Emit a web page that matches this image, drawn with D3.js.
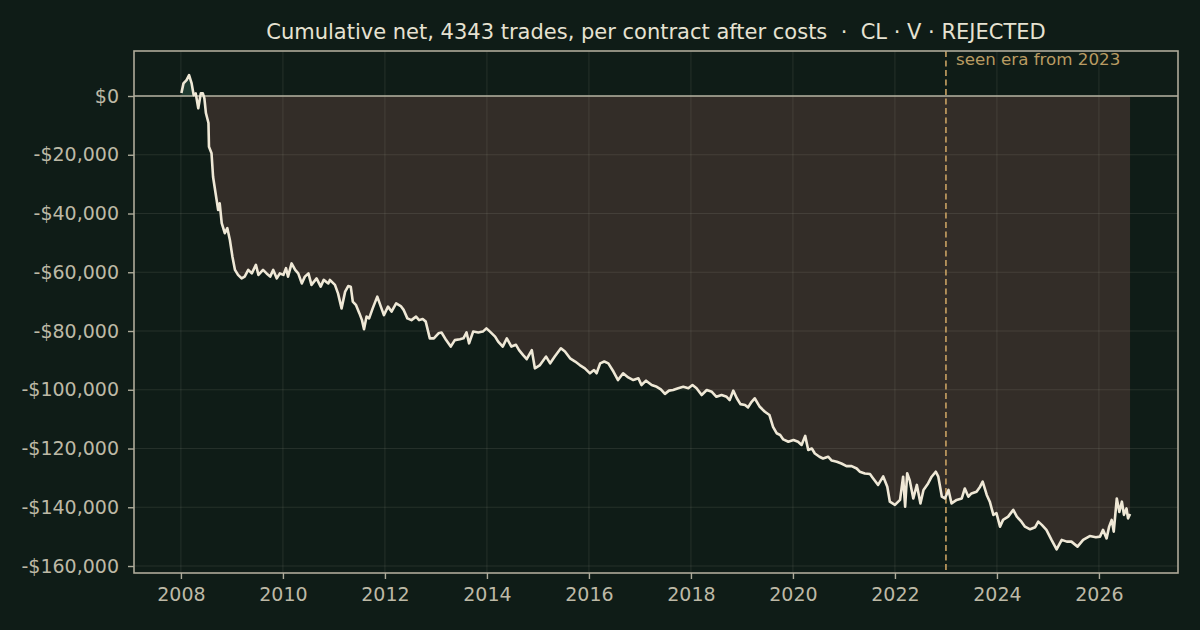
<!DOCTYPE html>
<html>
<head>
<meta charset="utf-8">
<script src="https://cdn.jsdelivr.net/npm/d3@7"></script>
<style>
  body { margin: 0; background: #0f1c17; }
  svg { display: block; font-family: "DejaVu Sans", sans-serif; }
</style>
</head>
<body>
<script>
// data (decimal year, cumulative net $)
const years = [
  2008.01, 2008.05, 2008.11, 2008.16, 2008.21, 2008.25, 2008.29, 2008.34, 2008.39, 2008.43,
  2008.46, 2008.49, 2008.54, 2008.55, 2008.60, 2008.63, 2008.70, 2008.73, 2008.76, 2008.80,
  2008.86, 2008.91, 2008.96, 2009.01, 2009.06, 2009.12, 2009.19, 2009.25, 2009.32, 2009.39,
  2009.47, 2009.52, 2009.61, 2009.68, 2009.75, 2009.81, 2009.88, 2009.94, 2010.01, 2010.06,
  2010.10, 2010.17, 2010.24, 2010.30, 2010.37, 2010.43, 2010.50, 2010.56, 2010.66, 2010.74,
  2010.80, 2010.89, 2010.92, 2011.02, 2011.08, 2011.15, 2011.22, 2011.28, 2011.33, 2011.37,
  2011.43, 2011.50, 2011.55, 2011.59, 2011.64, 2011.69, 2011.76, 2011.85, 2011.92, 2011.98,
  2012.06, 2012.13, 2012.22, 2012.31, 2012.37, 2012.44, 2012.52, 2012.61, 2012.67, 2012.74,
  2012.80, 2012.88, 2012.96, 2013.05, 2013.11, 2013.20, 2013.29, 2013.37, 2013.47, 2013.54,
  2013.60, 2013.65, 2013.73, 2013.83, 2013.92, 2013.99, 2014.06, 2014.16, 2014.22, 2014.31,
  2014.39, 2014.48, 2014.57, 2014.63, 2014.71, 2014.78, 2014.88, 2014.94, 2015.04, 2015.16,
  2015.24, 2015.33, 2015.45, 2015.53, 2015.63, 2015.73, 2015.82, 2015.92, 2016.02, 2016.10,
  2016.15, 2016.22, 2016.30, 2016.38, 2016.48, 2016.57, 2016.67, 2016.77, 2016.87, 2016.97,
  2017.03, 2017.12, 2017.23, 2017.33, 2017.41, 2017.49, 2017.57, 2017.65, 2017.75, 2017.85,
  2017.95, 2018.03, 2018.11, 2018.21, 2018.31, 2018.41, 2018.50, 2018.60, 2018.70, 2018.76,
  2018.83, 2018.90, 2018.97, 2019.06, 2019.12, 2019.19, 2019.25, 2019.35, 2019.45, 2019.54,
  2019.61, 2019.68, 2019.75, 2019.81, 2019.91, 2020.01, 2020.10, 2020.17, 2020.24, 2020.30,
  2020.37, 2020.43, 2020.52, 2020.59, 2020.69, 2020.76, 2020.86, 2020.95, 2021.05, 2021.15,
  2021.25, 2021.31, 2021.41, 2021.51, 2021.57, 2021.67, 2021.77, 2021.85, 2021.90, 2022.00,
  2022.10, 2022.16, 2022.20, 2022.24, 2022.29, 2022.36, 2022.43, 2022.50, 2022.56, 2022.65,
  2022.72, 2022.80, 2022.85, 2022.92, 2022.98, 2023.05, 2023.11, 2023.21, 2023.31, 2023.37,
  2023.44, 2023.50, 2023.60, 2023.67, 2023.72, 2023.80, 2023.86, 2023.93, 2023.99, 2024.06,
  2024.12, 2024.22, 2024.32, 2024.39, 2024.48, 2024.55, 2024.65, 2024.75, 2024.81, 2024.88,
  2024.97, 2025.07, 2025.17, 2025.27, 2025.37, 2025.46, 2025.58, 2025.69, 2025.82, 2025.94,
  2026.02, 2026.08, 2026.15, 2026.20, 2026.25, 2026.29, 2026.35, 2026.40, 2026.45, 2026.49,
  2026.54, 2026.57, 2026.61
];
const cumNet = [
  1000, 4300, 5400, 7100, 4300, 300, 900, -4200, 900, 900,
  -800, -5800, -9200, -17300, -19500, -27500, -35400, -38800, -36500, -43300,
  -46700, -45000, -49000, -54700, -59200, -60900, -62100, -61500, -59200, -60400,
  -57500, -60900, -59200, -60400, -61500, -59200, -62100, -60400, -60900, -58600,
  -61500, -57000, -59200, -60400, -63800, -61500, -60400, -64300, -62100, -64900,
  -62600, -63800, -62600, -64300, -67200, -72300, -66600, -64700, -64900, -70000,
  -71100, -74000, -76300, -79400, -75100, -75700, -72300, -68300, -71700, -74600,
  -71700, -73400, -70600, -71500, -72900, -75700, -76300, -75100, -76300, -75900,
  -76800, -82500, -82500, -80800, -80500, -83100, -85300, -83100, -82800, -82500,
  -80500, -84200, -80200, -80500, -80200, -79100, -80200, -81900, -83600, -85300,
  -82500, -85300, -84700, -86500, -88200, -89600, -86500, -92700, -91600, -88700,
  -91000, -88700, -85900, -87000, -89300, -90400, -91600, -92700, -94400, -93300,
  -94400, -91000, -90400, -91000, -93800, -96700, -94400, -95800, -96700, -96100,
  -98400, -96900, -98400, -99000, -99900, -101400, -100300, -100100, -99500, -99000,
  -99500, -98400, -99500, -101800, -100100, -100700, -102400, -101800, -102400, -103500,
  -100300, -102900, -104900, -105200, -106000, -104100, -102900, -105800, -107500, -108600,
  -112600, -114800, -115400, -116900, -117700, -117100, -117700, -118800, -115700, -120500,
  -120000, -121700, -122800, -123400, -122800, -124100, -124500, -125100, -126000, -126000,
  -126800, -127900, -128500, -128700, -130100, -132400, -129500, -133000, -138100, -139200,
  -137500, -129600, -139800, -128400, -130900, -137000, -132400, -138700, -134100, -131900,
  -129600, -127900, -129600, -136400, -137000, -134100, -138700, -137500, -137000, -133600,
  -136400, -135300, -134700, -133000, -131300, -135800, -138100, -142600, -142000, -146600,
  -144300, -143200, -140900, -143200, -144900, -146600, -147500, -146800, -144900, -146000,
  -147700, -151100, -154300, -151100, -151700, -151700, -153400, -151100, -149800, -150200,
  -150000, -147700, -150600, -146600, -144300, -148300, -137000, -141600, -138100, -142600,
  -140400, -143800, -142300
];
const xTicks = [2008, 2010, 2012, 2014, 2016, 2018, 2020, 2022, 2024, 2026];
const yTicks = [0, -20000, -40000, -60000, -80000, -100000, -120000, -140000, -160000];
const eraStart = 2023;
const title = "Cumulative net, 4343 trades, per contract after costs  \u00b7  CL \u00b7 V \u00b7 REJECTED";
const eraLabel = "seen era from 2023";

const data = years.map((y, i) => ({ t: y, v: cumNet[i] }));

const dims = { width: 1200, height: 630 };
const m = { top: 51, right: 22, bottom: 57, left: 134 };
const W = dims.width - m.left - m.right;
const H = dims.height - m.top - m.bottom;

const svg = d3.select("body").append("svg")
    .attr("width", dims.width)
    .attr("height", dims.height)
    .attr("xml:space", "preserve")
    .style("background", "#0f1c17");

const x = d3.scaleLinear().domain([2007.08, 2027.55]).range([0, W]);
const y = d3.scaleLinear().domain([-162380, 15320]).range([H, 0]);

const g = svg.append("g").attr("transform", `translate(${m.left},${m.top})`);

// clip regions above / below zero
const defs = svg.append("defs");
defs.append("clipPath").attr("id", "below")
  .append("rect").attr("x", 0).attr("y", y(0)).attr("width", W).attr("height", H - y(0));
defs.append("clipPath").attr("id", "above")
  .append("rect").attr("x", 0).attr("y", 0).attr("width", W).attr("height", y(0));

const area = d3.area().x(d => x(d.t)).y0(y(0)).y1(d => y(d.v));

g.append("path").datum(data)
    .attr("clip-path", "url(#below)")
    .attr("fill", "#332d28")
    .attr("d", area);
g.append("path").datum(data)
    .attr("clip-path", "url(#above)")
    .attr("fill", "#1f3a30")
    .attr("d", area);

// grid
g.append("g").selectAll("line").data(xTicks).join("line")
    .attr("x1", d => x(d)).attr("x2", d => x(d))
    .attr("y1", 0).attr("y2", H)
    .attr("stroke", "#c8c8b4").attr("stroke-opacity", 0.12).attr("stroke-width", 1);
g.append("g").selectAll("line").data(yTicks).join("line")
    .attr("x1", 0).attr("x2", W)
    .attr("y1", d => y(d)).attr("y2", d => y(d))
    .attr("stroke", "#c8c8b4").attr("stroke-opacity", 0.12).attr("stroke-width", 1);

// zero line
g.append("line")
    .attr("x1", 0).attr("x2", W)
    .attr("y1", y(0)).attr("y2", y(0))
    .attr("stroke", "#b5b2a0").attr("stroke-width", 1.6);

// era marker
g.append("line")
    .attr("x1", x(eraStart)).attr("x2", x(eraStart))
    .attr("y1", 0).attr("y2", H)
    .attr("stroke", "#c9a263").attr("stroke-width", 1.6)
    .attr("stroke-dasharray", "6,3.5");
g.append("text")
    .attr("x", x(eraStart) + 10).attr("y", 13.5)
    .attr("fill", "#b99b62").attr("font-size", 16.7)
    .text(eraLabel);

// line
g.append("path").datum(data)
    .attr("fill", "none")
    .attr("stroke", "#efe8d6")
    .attr("stroke-width", 2.6)
    .attr("stroke-linejoin", "round")
    .attr("d", d3.line().x(d => x(d.t)).y(d => y(d.v)));

// axes
const fmt = d => (d < 0 ? "-$" : "$") + d3.format(",")(Math.abs(d));
const xAxis = g.append("g").attr("transform", `translate(0,${H})`)
    .call(d3.axisBottom(x).tickValues(xTicks).tickFormat(d3.format("d")).tickSize(6).tickPadding(9));
const yAxis = g.append("g")
    .call(d3.axisLeft(y).tickValues(yTicks).tickFormat(fmt).tickSize(6).tickPadding(9));
[xAxis, yAxis].forEach(a => {
  a.select(".domain").remove();
  a.selectAll(".tick line").attr("stroke", "#aeab9a").attr("stroke-width", 1.4);
  a.selectAll(".tick text").attr("fill", "#bdb9a6").attr("font-size", 19)
    .attr("font-family", "DejaVu Sans, sans-serif");
});

// frame
g.append("rect")
    .attr("x", 0).attr("y", 0).attr("width", W).attr("height", H)
    .attr("fill", "none").attr("stroke", "#aeab9a").attr("stroke-width", 1.6);

// title
svg.append("text")
    .attr("x", m.left + W / 2).attr("y", 39)
    .attr("text-anchor", "middle")
    .attr("fill", "#e6e2d2").attr("font-size", 21)
    .attr("xml:space", "preserve")
    .style("white-space", "pre")
    .text(title);
</script>
</body>
</html>
